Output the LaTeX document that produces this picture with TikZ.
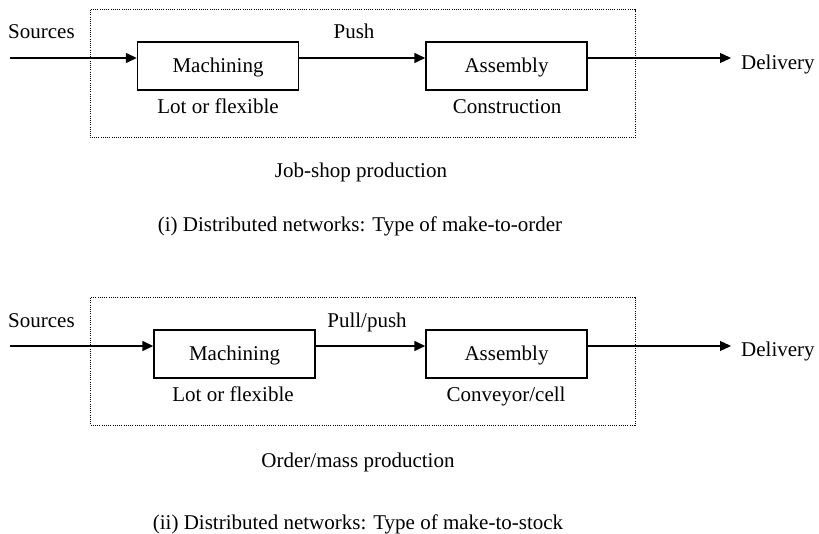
\documentclass[tikz,border=0pt]{standalone}
\usepackage{fontspec}
\setmainfont{Liberation Serif}
\usetikzlibrary{arrows.meta}
\begin{document}
\begin{tikzpicture}[x=1pt,y=-1pt,
  every node/.style={font=\fontsize{21}{25}\selectfont, inner sep=0pt},
  stage/.style={draw, line width=1.4pt, minimum width=161pt, minimum height=48pt,
                text height=14pt, text depth=0pt},
  frame/.style={line width=1pt, dash pattern=on 1pt off 1.2pt},
  flow/.style={line width=1.4pt, -{Triangle[length=11pt,width=10pt]}},
  lbl/.style={anchor=base},
  lblw/.style={anchor=base west}]
\useasboundingbox (0,0) rectangle (819,534);

% ---- (i) make-to-order ----
\draw[frame] (90,10) rectangle (635,138);
\node[stage] (mach1) at (218,66) {Machining};
\node[stage] (asm1) at (506.5,66) {Assembly};
\coordinate (src1) at (10,58);
\coordinate (dst1) at (731,58);
\draw[flow] (src1) -- (mach1.west |- src1);
\draw[flow] (mach1.east |- src1) -- (asm1.west |- src1);
\draw[flow] (asm1.east |- src1) -- (dst1);
\node[lblw] (srcL1) at (8,39) {Sources};
\node[lbl] (push1) at (354,39) {Push};
\node[lblw] (delL1) at (741,70) {Delivery};
\node[lbl] (lot1) at (218,114) {Lot or flexible};
\node[lbl] (cons1) at (507,114) {Construction};
\node[lbl] (job1) at (361,178) {Job-shop production};
\node[lbl] (cap1) at (360,232) {(i) Distributed networks: Type of make-to-order};

% ---- (ii) make-to-stock ----
\draw[frame] (90,298) rectangle (635,425);
\node[stage] (mach2) at (234.5,354) {Machining};
\node[stage] (asm2) at (506.5,354) {Assembly};
\coordinate (src2) at (10,346);
\coordinate (dst2) at (731,346);
\draw[flow] (src2) -- (mach2.west |- src2);
\draw[flow] (mach2.east |- src2) -- (asm2.west |- src2);
\draw[flow] (asm2.east |- src2) -- (dst2);
\node[lblw] (srcL2) at (8,328) {Sources};
\node[lbl] (push2) at (367,328) {Pull/push};
\node[lblw] (delL2) at (741,356) {Delivery};
\node[lbl] (lot2) at (233,402) {Lot or flexible};
\node[lbl] (conv2) at (506,402) {Conveyor/cell};
\node[lbl] (mass2) at (358,467) {Order/mass production};
\node[lbl] (cap2) at (358,529) {(ii) Distributed networks: Type of make-to-stock};
\end{tikzpicture}
\end{document}
